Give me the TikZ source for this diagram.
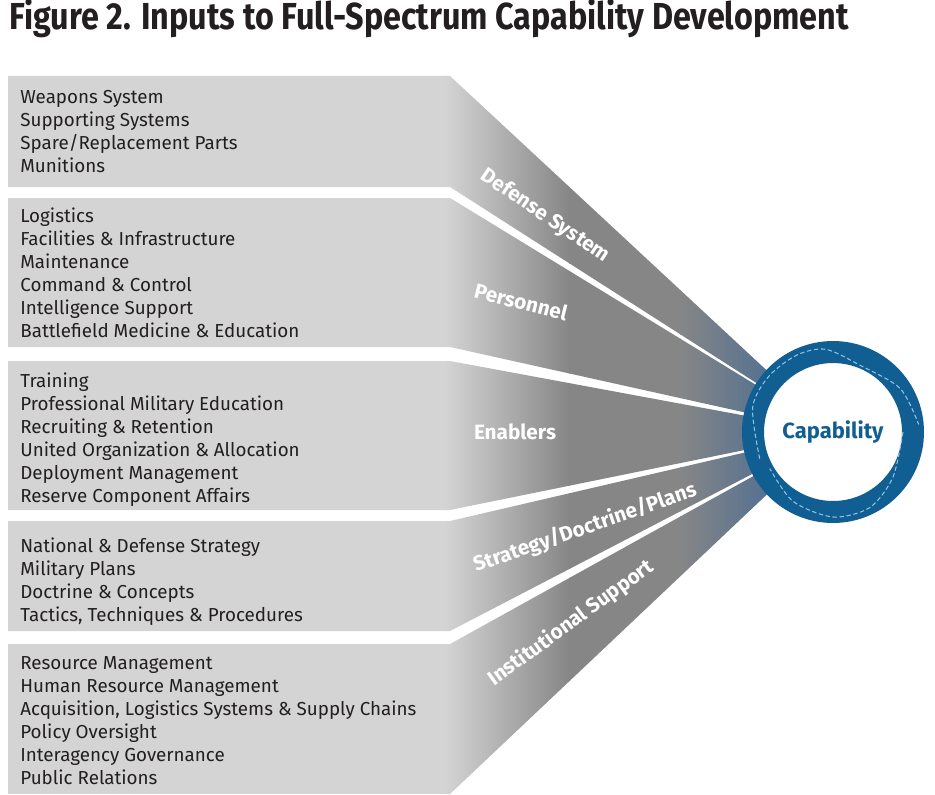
\documentclass[tikz,border=0pt]{standalone}
\usepackage{fontspec}
\setmainfont{Fira Sans}
\newfontfamily\titlefont[FakeStretch=0.86]{Fira Sans}

\definecolor{boxgray}{RGB}{212,212,212}
\definecolor{fungray}{RGB}{134,134,134}
\definecolor{steel}{RGB}{72,108,148}
\definecolor{capblue}{RGB}{16,94,146}
\definecolor{dashblue}{RGB}{140,196,232}
\definecolor{inkgray}{RGB}{35,31,32}

\begin{document}
\begin{tikzpicture}[x=0.02cm,y=-0.02cm,
   item/.style={anchor=base west, inner sep=0pt, text=inkgray,
                font=\fontsize{10.7}{13}\selectfont},
   bandlabel/.style={inner sep=0pt, text=white,
                font=\bfseries\fontsize{11.8}{13}\selectfont},
   dashring/.style={dashblue, line width=0.6pt, dash pattern=on 2.5pt off 1.5pt}]

   \useasboundingbox (0,0) rectangle (935,794);
   \coordinate (hub) at (833,432);

   \node[anchor=base west, inner sep=0pt, text=inkgray,
         font=\titlefont\bfseries\fontsize{21.4}{24}\selectfont] (title) at (9,30)
         {Figure 2. Inputs to Full-Spectrum Capability Development};

   % the five bands, funnelled into the hub
   \begin{scope}
      \clip \foreach \t/\b in {76/187,198/347,361/510,521/631,644/794}
         {(8,\t) -- (450,\t) -- (hub) -- (450,\b) -- (8,\b) -- cycle};
      \fill [boxgray] (0,60) rectangle (446,794);
      \shade [left color=boxgray, right color=fungray] (445,60) rectangle (570,794);
      \fill [fungray] (569,60) rectangle (681,794);
      \shade [left color=fungray, right color=steel] (680,60) rectangle (790,794);
   \end{scope}

   \foreach \txt [count=\i] in {Weapons System, Supporting Systems,
         Spare/Replacement Parts, Munitions}
      \node[item] (def-\i) at (20,80+23*\i) {\txt};
   \foreach \txt [count=\i] in {Logistics, Facilities \& Infrastructure, Maintenance,
         Command \& Control, Intelligence Support, Battlefield Medicine \& Education}
      \node[item] (per-\i) at (20,199+23*\i) {\txt};
   \foreach \txt [count=\i] in {Training, Professional Military Education,
         Recruiting \& Retention, United Organization \& Allocation,
         Deployment Management, Reserve Component Affairs}
      \node[item] (ena-\i) at (20,364+23*\i) {\txt};
   \foreach \txt [count=\i] in {National \& Defense Strategy, Military Plans,
         Doctrine \& Concepts, {Tactics, Techniques \& Procedures}}
      \node[item] (sdp-\i) at (20,529+23*\i) {\txt};
   \foreach \txt [count=\i] in {Resource Management, Human Resource Management,
         {Acquisition, Logistics Systems \& Supply Chains}, Policy Oversight,
         Interagency Governance, Public Relations}
      \node[item] (ins-\i) at (20,646+23*\i) {\txt};

   \node[bandlabel, rotate=-34] (lab-def) at (545,216) {Defense System};
   \node[bandlabel, rotate=-14] (lab-per) at (521,302) {Personnel};
   \node[bandlabel] (lab-ena) at (515,432) {Enablers};
   \node[bandlabel, rotate=19] (lab-sdp) at (585,528) {Strategy/Doctrine/Plans};
   \node[bandlabel, rotate=36] (lab-ins) at (571,623) {Institutional Support};

   % capability ring
   \node[circle, draw=capblue, line width=0.44cm, fill=white, minimum size=3.2cm,
         inner sep=0pt, text=capblue, font=\bfseries\fontsize{12.5}{14}\selectfont]
         (cap) at (hub) {Capability};
   \draw[dashring, shift={(hub)}] plot[smooth] coordinates {(160:78) (197:84)
         (221:85) (245:85) (265:83) (292:72) (327:80) (355:86)};
   \draw[dashring, shift={(hub)}] plot[smooth] coordinates {(0:70) (37:75)
         (64:84) (90:85) (120:80) (150:73)};

\end{tikzpicture}
\end{document}
